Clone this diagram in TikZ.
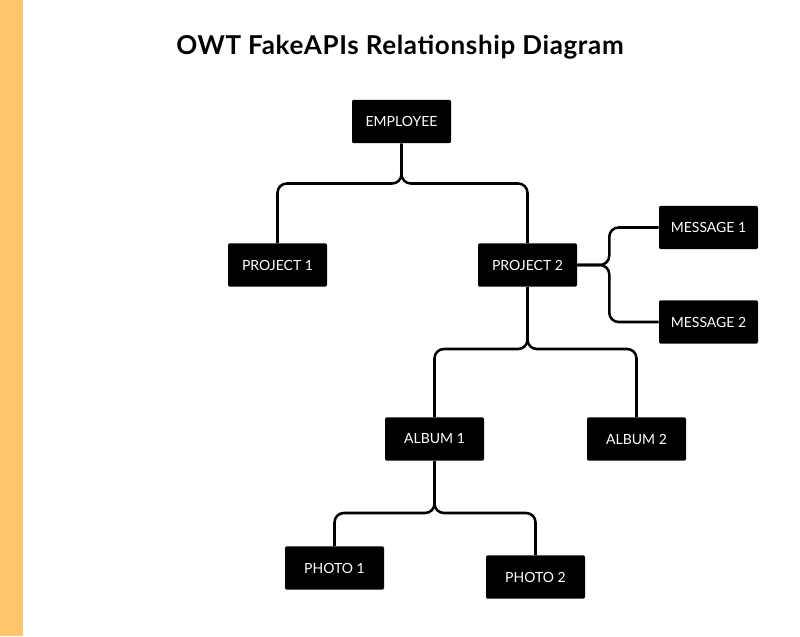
\documentclass[tikz,border=0pt]{standalone}
\usepackage{fontspec}
\setmainfont{Lato}
\definecolor{sidebar}{RGB}{255,199,107}
\tikzset{
  entity/.style={fill=black,text=white,rounded corners=1.5pt,minimum width=74.25pt,
    minimum height=32.6pt,inner sep=2pt,font=\fontsize{10.5}{12}\selectfont},
  link/.style={line width=1.9pt,rounded corners=7pt},
  charttitle/.style={font=\fontsize{19.5}{22}\selectfont\bfseries\addfontfeatures{LetterSpace=2.5}},
}
\begin{document}
\begin{tikzpicture}[x=0.75pt,y=-0.75pt]
  \useasboundingbox[fill=white] (0,0) rectangle (800,636);
  \fill[sidebar] (0,0) rectangle (23,636);
  \node[charttitle] (title) at (400,47) {OWT FakeAPIs Relationship Diagram};
  % entities
  \node[entity] (employee) at (401.5,121.5) {EMPLOYEE};
  \node[entity] (project1) at (277.5,265) {PROJECT 1};
  \node[entity] (project2) at (527.5,265) {PROJECT 2};
  \node[entity] (message1) at (708.5,227.5) {MESSAGE 1};
  \node[entity] (message2) at (708.5,322) {MESSAGE 2};
  \node[entity] (album1) at (434.5,439) {ALBUM 1};
  \node[entity] (album2) at (636.5,439) {ALBUM 2};
  \node[entity] (photo1) at (334.5,568) {PHOTO 1};
  \node[entity] (photo2) at (535.5,577) {PHOTO 2};
  % relations
  \draw[link] (employee.south) -- ++(0,40) -| (project1.north);
  \draw[link] (employee.south) -- ++(0,40) -| (project2.north);
  \draw[link] (project2.east) -- ++(32,0) |- (message1.west);
  \draw[link] (project2.east) -- ++(32,0) |- (message2.west);
  \draw[link] (project2.south) -- ++(0,62) -| (album1.north);
  \draw[link] (project2.south) -- ++(0,62) -| (album2.north);
  \draw[link] (album1.south) -- ++(0,52) -| (photo1.north);
  \draw[link] (album1.south) -- ++(0,52) -| (photo2.north);
\end{tikzpicture}
\end{document}
